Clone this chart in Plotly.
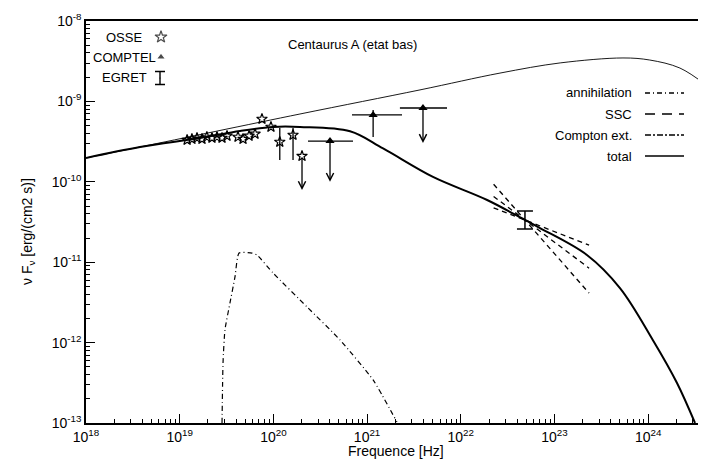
import numpy as np
import plotly.graph_objects as go

# ---- model curves ----
total_nu = [1e18, 3.77e18, 1.65e19, 4.41e19, 9.91e19, 1.92e20, 6.58e20, 1.48e21, 5.05e21,
            1.91e22, 4.84e22, 7.00e22, 2.22e23, 5.00e23, 1.12e24, 2.03e24, 3.16e24]
total_f = [1.98e-10, 2.71e-10, 3.51e-10, 4.29e-10, 4.81e-10, 4.81e-10, 4.25e-10, 2.60e-10, 1.15e-10,
           5.94e-11, 3.35e-11, 2.66e-11, 1.23e-11, 4.77e-12, 1.08e-12, 3.15e-13, 1.0e-13]

thin_nu = [1e18, 3.77e18, 1.92e20, 3.67e21, 2.62e22, 1.15e23, 5.38e23, 1.04e24, 2.18e24, 4.14e24]
thin_f = [1.98e-10, 2.71e-10, 6.97e-10, 1.39e-9, 2.25e-9, 3.01e-9, 3.47e-9, 3.27e-9, 2.60e-9, 1.60e-9]

annih_nu = [2.83e19, 2.90e19, 3.04e19, 3.44e19, 3.89e19, 4.30e19, 5.92e19, 6.68e19, 9.91e19,
            2.29e20, 5.14e20, 1.16e21, 2.08e21]
annih_f = [1.0e-13, 5.57e-13, 1.44e-12, 3.11e-12, 6.55e-12, 1.30e-11, 1.30e-11, 1.23e-11, 7.35e-12,
           2.77e-12, 1.08e-12, 3.43e-13, 1.03e-13]

# ---- OSSE ----
osse_nu = [1.20e19, 1.35e19, 1.53e19, 1.73e19, 1.95e19, 2.21e19, 2.50e19, 2.83e19, 3.20e19,
           4.19e19, 4.74e19, 5.50e19, 6.37e19, 7.55e19, 9.42e19]
osse_f = [3.31e-10, 3.40e-10, 3.51e-10, 3.40e-10, 3.61e-10, 3.51e-10, 3.61e-10, 3.51e-10, 3.72e-10,
          3.61e-10, 3.40e-10, 3.72e-10, 3.94e-10, 6.04e-10, 4.81e-10]
osse_err_nu = [1.17e20, 1.62e20]
osse_err_f = [3.13e-10, 3.82e-10]
osse_err_hi = [4.67e-10, 4.67e-10]
osse_err_lo = [1.87e-10, 1.87e-10]
osse_ul_nu = [2.02e20]
osse_ul_f = [2.09e-10]
osse_ul_end = [7.9e-11]

# ---- COMPTEL ----
comptel_nu = [4.02e20, 1.16e21, 3.95e21]
comptel_f = [3.21e-10, 6.78e-10, 8.28e-10]
comptel_nu_lo = [2.34e20, 6.90e20, 2.24e21]
comptel_nu_hi = [7.08e20, 2.36e21, 7.13e21]
comptel_f_lo = [1.0e-10, 3.61e-10, 3.04e-10]
comptel_f_hi = [3.21e-10, 7.82e-10, 8.28e-10]
comptel_upper = [True, False, True]

# ---- EGRET ----
egret_nu = [4.84e22]
egret_f = [3.35e-11]
egret_hi = [4.34e-11]
egret_lo = [2.59e-11]
bowtie_nu = [2.24e22, 4.84e22, 2.34e23]
bowtie_1 = [4.75e-11, 3.35e-11, 1.63e-11]
bowtie_2 = [6.58e-11, 3.35e-11, 8.43e-12]
bowtie_3 = [9.33e-11, 3.35e-11, 4.12e-12]

x_tickvals = [1e18, 1e19, 1e20, 1e21, 1e22, 1e23, 1e24]
x_ticktext = ["10<sup>18</sup>", "10<sup>19</sup>", "10<sup>20</sup>", "10<sup>21</sup>",
              "10<sup>22</sup>", "10<sup>23</sup>", "10<sup>24</sup>"]
y_tickvals = [1e-13, 1e-12, 1e-11, 1e-10, 1e-9, 1e-8]
y_ticktext = ["10<sup>-13</sup>", "10<sup>-12</sup>", "10<sup>-11</sup>",
              "10<sup>-10</sup>", "10<sup>-9</sup>", "10<sup>-8</sup>"]

legend_left = ["OSSE", "COMPTEL", "EGRET"]
legend_right = ["annihilation", "SSC", "Compton ext.", "total"]
legend_right_dash = ["5px,3px,1px,3px", "10px,7px", "6px,2px,2px,2px", "solid"]

x_minor = [m * 10.0 ** e for e in range(18, 25) for m in range(2, 10)]
y_minor = [m * 10.0 ** e for e in range(-13, -8) for m in range(2, 10)]

# page pixel -> paper helpers (plot area spans x 86..706, y 21..423 on the page)
def px(x):
    return (x - 86) / 620.0

def py(y):
    return (423 - y) / 402.0

K = "black"
fig = go.Figure()

fig.add_trace(go.Scatter(x=thin_nu, y=thin_f, mode="lines",
                         line=dict(color=K, width=0.9, shape="spline")))
fig.add_trace(go.Scatter(x=total_nu, y=total_f, mode="lines",
                         line=dict(color=K, width=2, shape="spline", smoothing=1)))
fig.add_trace(go.Scatter(x=annih_nu, y=annih_f, mode="lines",
                         line=dict(color=K, width=1.2, dash="5px,3px,1px,3px", shape="spline", smoothing=0.5)))
for bt in (bowtie_1, bowtie_2, bowtie_3):
    fig.add_trace(go.Scatter(x=bowtie_nu, y=bt, mode="lines",
                             line=dict(color=K, width=1.3, dash="5px,4px")))

# OSSE stars
fig.add_trace(go.Scatter(x=osse_nu, y=osse_f, mode="markers",
                         marker=dict(symbol="star-open", size=8, color=K, line=dict(width=1.2))))
fig.add_trace(go.Scatter(x=osse_err_nu + osse_ul_nu, y=osse_err_f + osse_ul_f, mode="markers",
                         marker=dict(symbol="star-open", size=8, color=K, line=dict(width=1.2)),
                         error_y=dict(type="data", symmetric=False,
                                      array=[h - f for h, f in zip(osse_err_hi, osse_err_f)] + [0],
                                      arrayminus=[f - l for f, l in zip(osse_err_f, osse_err_lo)] + [0],
                                      width=0, thickness=1.3, color=K)))

# COMPTEL triangles
fig.add_trace(go.Scatter(x=comptel_nu, y=comptel_f, mode="markers",
                         marker=dict(symbol="triangle-up", size=8, color=K),
                         error_x=dict(type="data", symmetric=False,
                                      array=[h - n for h, n in zip(comptel_nu_hi, comptel_nu)],
                                      arrayminus=[n - l for n, l in zip(comptel_nu, comptel_nu_lo)],
                                      width=0, thickness=1.3, color=K),
                         error_y=dict(type="data", symmetric=False,
                                      array=[0 if u else h - f for u, h, f in zip(comptel_upper, comptel_f_hi, comptel_f)],
                                      arrayminus=[0 if u else f - l for u, f, l in zip(comptel_upper, comptel_f, comptel_f_lo)],
                                      width=0, thickness=1.3, color=K)))

# EGRET point
fig.add_trace(go.Scatter(x=egret_nu, y=egret_f, mode="markers",
                         marker=dict(size=1, color=K),
                         error_y=dict(type="data", symmetric=False,
                                      array=[egret_hi[0] - egret_f[0]], arrayminus=[egret_f[0] - egret_lo[0]],
                                      width=8, thickness=1.5, color=K)))

annotations = []
# upper-limit arrows
ul_nu = osse_ul_nu + [n for n, u in zip(comptel_nu, comptel_upper) if u]
ul_f = osse_ul_f + [f for f, u in zip(comptel_f, comptel_upper) if u]
ul_end = osse_ul_end + [l for l, u in zip(comptel_f_lo, comptel_upper) if u]
for n, f, e in zip(ul_nu, ul_f, ul_end):
    annotations.append(dict(x=np.log10(n), y=np.log10(e), ax=np.log10(n), ay=np.log10(f),
                            xref="x", yref="y", axref="x", ayref="y", text="", showarrow=True,
                            arrowhead=5, arrowsize=1.1, arrowwidth=1.3, arrowcolor=K, standoff=0))

# legend symbols on a pixel overlay (x: 86..706, y: 423..21)
legend_syms = ["star-open", "triangle-up"]
fig.add_trace(go.Scatter(x=[161, 161], y=[37, 57], xaxis="x2", yaxis="y2", mode="markers",
                         marker=dict(symbol=legend_syms, size=[9, 8], color=K, line=dict(width=1.2))))
fig.add_trace(go.Scatter(x=[160], y=[78], xaxis="x2", yaxis="y2", mode="markers",
                         marker=dict(size=1, color=K),
                         error_y=dict(type="data", array=[6.5], width=5, thickness=1.4, color=K)))


def label(text, x, y, size=13, xanchor="center", angle=0):
    return dict(x=px(x), y=py(y), xref="paper", yref="paper", text=text, showarrow=False,
                font=dict(size=size), xanchor=xanchor, yanchor="middle", textangle=angle)


for txt, yy in zip(legend_left, [37, 57, 78]):
    annotations.append(label(txt, 124, yy))
shapes = []
for txt, dsh, yy in zip(legend_right, legend_right_dash, [93, 114, 135, 156]):
    annotations.append(label(txt, 634, yy, xanchor="right"))
    shapes.append(dict(type="line", xref="paper", yref="paper", x0=px(645), x1=px(684), y0=py(yy), y1=py(yy),
                       line=dict(color=K, width=1.3, dash=dsh)))

annotations.append(label("Centaurus A (etat bas)", 352, 45))
annotations.append(label("Frequence [Hz]", 396, 451, size=14))
annotations.append(label("ν F<sub>ν</sub> [erg/(cm2 s)]", 28, 232, size=14, angle=-90))

axis_common = dict(type="log", ticks="inside", ticklen=9, tickwidth=1.2, tickcolor=K,
                   showline=True, linewidth=1.5, linecolor=K, showgrid=False, zeroline=False,
                   tickmode="array", tickfont=dict(size=14, color=K))

# the page body adds an 8px offset, so the figure is 8px smaller and the margins shifted
fig.update_layout(
    width=698, height=451,
    margin=dict(l=78, r=0, t=13, b=36),
    plot_bgcolor="white", paper_bgcolor="white",
    showlegend=False,
    font=dict(family="Liberation Sans, Arial, sans-serif", size=14, color=K),
    xaxis=dict(axis_common, range=[18, 24.617], tickvals=x_tickvals, ticktext=x_ticktext, mirror=True,
               ticklabelstandoff=0,
               minor=dict(tickmode="array", tickvals=x_minor, ticks="inside", ticklen=4, tickcolor=K)),
    yaxis=dict(axis_common, range=[-13, -8], tickvals=y_tickvals, ticktext=y_ticktext,
               minor=dict(tickmode="array", tickvals=y_minor, ticks="inside", ticklen=4, tickcolor=K)),
    xaxis2=dict(overlaying="x", anchor="y2", range=[86, 706], visible=False),
    yaxis2=dict(overlaying="y", anchor="x2", range=[423, 21], visible=False),
    annotations=annotations,
    shapes=shapes,
)

fig.write_html("out.html")
